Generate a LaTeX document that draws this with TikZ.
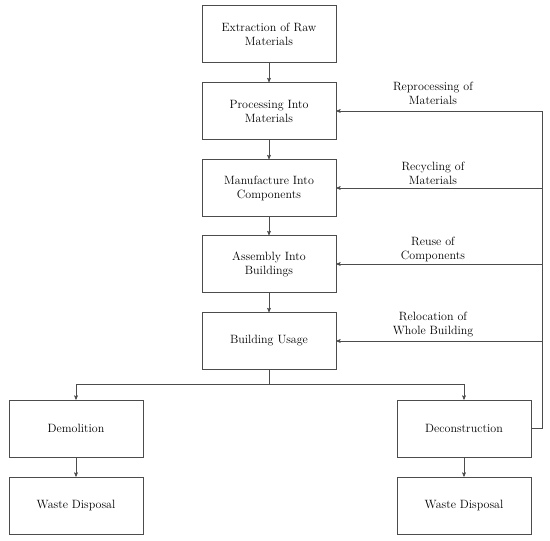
\documentclass[tikz,border=0pt]{standalone}
\usepackage{amsmath}
\usepackage{tikz}
\usetikzlibrary{arrows,positioning}

\begin{document}
\begin{tikzpicture}[x=1pt,y=1pt,->,>=stealth',line width=0.6pt,color=black!70,
	boxnode/.style={rectangle,draw,minimum width=134pt,minimum height=57pt,align=center,text=black,font=\fontsize{12}{14}\selectfont},
	labelnode/.style={rectangle,inner sep=0pt,align=center,text=black,font=\fontsize{12}{14}\selectfont}]
	
	\useasboundingbox (0,0) rectangle (550,541);
	
	\node [boxnode] (0) at (269, 507) {Extraction of Raw\\Materials};
	\node [boxnode] (1) at (269, 430) {Processing Into\\Materials};
	\node [boxnode] (2) at (269, 353) {Manufacture Into\\Components};
	\node [boxnode] (3) at (269, 277) {Assembly Into\\Buildings};
	\node [boxnode] (4) at (269, 200) {Building Usage};
	\node [boxnode] (5) at (76, 112.5) {Demolition};
	\node [boxnode] (6) at (464, 112.5) {Deconstruction};
	\node [boxnode] (7) at (76, 35.5) {Waste Disposal};
	\node [boxnode] (8) at (464, 35.5) {Waste Disposal};
	
	\coordinate (br) at (269, 157);
	\coordinate (r) at (542, 112.5);
	
	\node [labelnode] (l1) at (433, 448) {Reprocessing of\\Materials};
	\node [labelnode] (l2) at (433, 368) {Recycling of\\Materials};
	\node [labelnode] (l3) at (433, 292) {Reuse of\\Components};
	\node [labelnode] (l4) at (433, 216) {Relocation of\\Whole Building};
	
	\draw (0) to (1);
	\draw (1) to (2);
	\draw (2) to (3);
	\draw (3) to (4);
	\draw[-] (4) to (br);
	\draw (br) -| (5);
	\draw (br) -| (6);
	\draw (5) to (7);
	\draw (6) to (8);
	
	% feedback loops from deconstruction
	\draw[-] (6) -- (r) -- (r |- 1);
	\draw (r |- 1) -- (1);
	\draw (r |- 2) -- (2);
	\draw (r |- 3) -- (3);
	\draw (r |- 4) -- (4);

\end{tikzpicture}
\end{document}
